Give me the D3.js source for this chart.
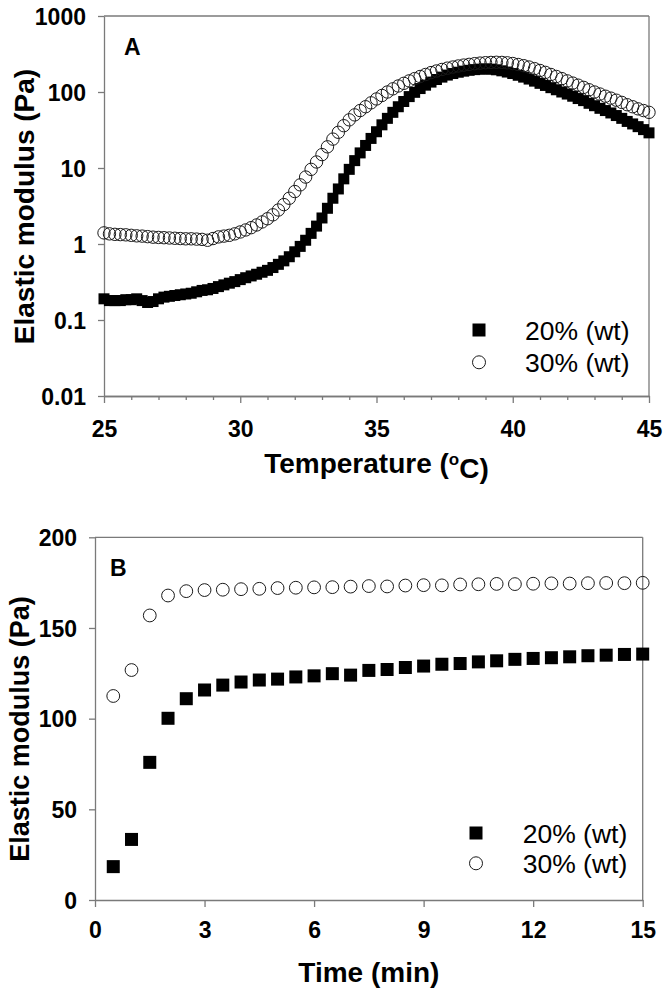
<!DOCTYPE html>
<html>
<head>
<meta charset="utf-8">
<script src="https://cdn.jsdelivr.net/npm/d3@7"></script>
<style>
  html, body { margin: 0; padding: 0; background: #fff; }
  svg { display: block; }
  text { font-family: "Liberation Sans", Arial, Helvetica, sans-serif; fill: #000; }
</style>
</head>
<body>
<svg id="chart" width="669" height="996"></svg>
<script>
// ---------------- Panel A data (temperature sweep) ----------------
const tempA = [
  25.0, 25.2, 25.4, 25.6, 25.8, 26.0, 26.2, 26.4, 26.6, 26.8,
  27.0, 27.2, 27.4, 27.6, 27.8, 28.0, 28.2, 28.4, 28.6, 28.8,
  29.0, 29.2, 29.4, 29.6, 29.8, 30.0, 30.2, 30.4, 30.6, 30.8,
  31.0, 31.2, 31.4, 31.6, 31.8, 32.0, 32.2, 32.4, 32.6, 32.8,
  33.0, 33.2, 33.4, 33.6, 33.8, 34.0, 34.2, 34.4, 34.6, 34.8,
  35.0, 35.2, 35.4, 35.6, 35.8, 36.0, 36.2, 36.4, 36.6, 36.8,
  37.0, 37.2, 37.4, 37.6, 37.8, 38.0, 38.2, 38.4, 38.6, 38.8,
  39.0, 39.2, 39.4, 39.6, 39.8, 40.0, 40.2, 40.4, 40.6, 40.8,
  41.0, 41.2, 41.4, 41.6, 41.8, 42.0, 42.2, 42.4, 42.6, 42.8,
  43.0, 43.2, 43.4, 43.6, 43.8, 44.0, 44.2, 44.4, 44.6, 44.8,
  45.0
];
const g20A = [
  0.19, 0.18, 0.18, 0.18, 0.185, 0.185, 0.19, 0.18, 0.17, 0.175,
  0.19, 0.20, 0.205, 0.21, 0.215, 0.22, 0.225, 0.235, 0.245, 0.25,
  0.26, 0.275, 0.29, 0.305, 0.32, 0.34, 0.36, 0.38, 0.40, 0.425,
  0.45, 0.49, 0.54, 0.60, 0.68, 0.79, 0.93, 1.12, 1.38, 1.72,
  2.2, 2.95, 4.0, 5.3, 7.2, 9.6, 12.5, 15.8, 19.8, 24.5,
  30, 37, 45, 54, 64, 75, 87, 99, 111, 123,
  135, 146, 157, 167, 175, 182, 188, 193, 197, 200,
  201, 200, 196, 190, 183, 175, 166, 157, 148, 139,
  130, 122, 114, 107, 100, 94, 88, 82, 77, 71,
  66, 61, 57, 53, 49, 45, 41, 38, 35, 32,
  29
];
const g30A = [
  1.40, 1.36, 1.34, 1.33, 1.32, 1.30, 1.28, 1.27, 1.25, 1.23,
  1.22, 1.21, 1.20, 1.19, 1.18, 1.17, 1.17, 1.16, 1.15, 1.12,
  1.18, 1.24, 1.27, 1.30, 1.36, 1.44, 1.53, 1.64, 1.78, 1.95,
  2.15, 2.42, 2.8, 3.3, 4.0, 4.9, 6.0, 7.6, 9.6, 12,
  15, 19, 24, 29.5, 36, 43, 50, 57, 64, 72,
  81, 90, 100, 110, 120, 130, 140, 150, 160, 170,
  180, 189, 198, 206, 213, 220, 226, 231, 236, 240,
  243, 245, 246, 245, 242, 237, 230, 222, 213, 203,
  192, 181, 170, 160, 150, 140, 131, 123, 115, 107,
  100, 94, 88, 83, 78, 73, 68, 64, 60, 57,
  54
];
const xTicksA = [25, 30, 35, 40, 45];
const xMinorTicksA = [26, 27, 28, 29, 31, 32, 33, 34, 36, 37, 38, 39, 41, 42, 43, 44];
const yTicksA = [0.01, 0.1, 1, 10, 100, 1000];
const yTickLabelsA = ["0.01", "0.1", "1", "10", "100", "1000"];

// ---------------- Panel B data (time sweep) ----------------
const timeB = [0.5, 1, 1.5, 2, 2.5, 3, 3.5, 4, 4.5, 5, 5.5, 6, 6.5, 7, 7.5,
               8, 8.5, 9, 9.5, 10, 10.5, 11, 11.5, 12, 12.5, 13, 13.5, 14, 14.5, 15];
const g20B = [18.4, 33.4, 75.9, 100.2, 111.0, 115.8, 118.5, 120.2, 121.3, 121.8,
              123.0, 123.6, 124.8, 124.0, 126.6, 127.1, 128.2, 129.0, 130.0, 130.4,
              131.3, 131.9, 132.7, 133.2, 133.6, 134.1, 134.7, 135.0, 135.4, 135.6];
const g30B = [112.5, 126.8, 156.9, 167.9, 170.3, 170.9, 171.1, 171.4, 171.6, 172.0,
              172.2, 172.4, 172.5, 172.8, 173.1, 172.9, 173.4, 173.6, 173.5, 174.0,
              174.1, 174.3, 174.2, 174.4, 174.6, 174.5, 174.7, 174.8, 174.7, 174.9];
const xTicksB = [0, 3, 6, 9, 12, 15];
const yTicksB = [0, 50, 100, 150, 200];

const seriesLabels = ["20% (wt)", "30% (wt)"];

// ---------------- drawing ----------------
const svg = d3.select("#chart");
const axisColor = "#7a7a7a";

function styleAxis(g) {
  g.select(".domain").attr("stroke", axisColor).attr("stroke-width", 1.3);
  g.selectAll(".tick line").attr("stroke", axisColor).attr("stroke-width", 1.3);
  g.selectAll(".tick text")
    .attr("fill", "#000")
    .style("font-size", "23px")
    .style("font-weight", "bold")
    .style("font-family", '"Liberation Sans", Arial, sans-serif');
}

function drawPanel(cfg) {
  const { x, y, xTicks, xMinor, yTicks, yFormat, xTitle, yTitle, yTitleX, yTitleY,
          xTitleY, letter, letterPos, legend, xs, s20, s30, sq, cr } = cfg;
  const [x0, x1] = x.range();
  const [y0, y1] = y.range(); // y0 bottom, y1 top
  const g = svg.append("g");

  // frame (top & right)
  g.append("line").attr("x1", x0).attr("x2", x1).attr("y1", y1).attr("y2", y1)
    .attr("stroke", axisColor).attr("stroke-width", 1.3);
  g.append("line").attr("x1", x1).attr("x2", x1).attr("y1", y1).attr("y2", y0)
    .attr("stroke", axisColor).attr("stroke-width", 1.3);

  // minor x ticks
  if (xMinor) {
    g.append("g").attr("transform", `translate(0,${y0})`)
      .call(d3.axisBottom(x).tickValues(xMinor).tickSizeInner(4).tickSizeOuter(0).tickFormat(""))
      .call(styleAxis);
  }
  // x axis
  const gx = g.append("g").attr("transform", `translate(0,${y0})`)
    .call(d3.axisBottom(x).tickValues(xTicks).tickSizeInner(7).tickSizeOuter(0).tickFormat(d3.format("d")))
    .call(styleAxis);
  gx.selectAll(".tick text").attr("y", cfg.xLabelOffset).attr("dy", null);

  // y axis
  const gy = g.append("g").attr("transform", `translate(${x0},0)`)
    .call(d3.axisLeft(y).tickValues(yTicks).tickSizeInner(6).tickSizeOuter(0).tickPadding(12).tickFormat(yFormat))
    .call(styleAxis);
  gy.selectAll(".tick text").attr("dy", "0.36em");

  // axis titles
  g.append("text")
    .attr("x", (x0 + x1) / 2).attr("y", xTitleY)
    .attr("text-anchor", "middle")
    .style("font-size", "28px").style("font-weight", "bold")
    .call(t => {
      if (cfg.degree) {
        t.append("tspan").text("Temperature (");
        t.append("tspan").text("o").attr("dy", "-0.45em").style("font-size", "17px");
        t.append("tspan").text("C)").attr("dy", "0.45em");
      } else {
        t.text(xTitle);
      }
    });
  g.append("text")
    .attr("transform", `translate(${yTitleX},${yTitleY}) rotate(-90)`)
    .attr("text-anchor", "middle")
    .style("font-size", cfg.yTitleSize + "px").style("font-weight", "bold")
    .text(yTitle);

  // panel letter
  g.append("text").attr("x", letterPos[0]).attr("y", letterPos[1])
    .style("font-size", "23px").style("font-weight", "bold").text(letter);

  // data: squares then circles
  const data20 = xs.map((v, i) => [v, s20[i]]);
  const data30 = xs.map((v, i) => [v, s30[i]]);
  g.append("g").selectAll("rect").data(data20).join("rect")
    .attr("x", d => x(d[0]) - sq / 2).attr("y", d => y(d[1]) - sq / 2)
    .attr("width", sq).attr("height", sq).attr("fill", "#000");
  g.append("g").selectAll("circle").data(data30).join("circle")
    .attr("cx", d => x(d[0])).attr("cy", d => y(d[1])).attr("r", cr)
    .attr("fill", "none").attr("stroke", "#1a1a1a").attr("stroke-width", 1);

  // legend
  const L = legend;
  g.append("rect").attr("x", L.mx - 6.5).attr("y", L.y1 - 6.5).attr("width", 13).attr("height", 13).attr("fill", "#000");
  g.append("circle").attr("cx", L.mx).attr("cy", L.y2).attr("r", 6.5)
    .attr("fill", "#fff").attr("stroke", "#1a1a1a").attr("stroke-width", 1);
  [[L.y1, seriesLabels[0]], [L.y2, seriesLabels[1]]].forEach(([yy, lab]) => {
    g.append("text").attr("x", L.tx).attr("y", yy + 9.5)
      .style("font-size", "26.5px").style("font-weight", "normal").text(lab);
  });
}

// Panel A
drawPanel({
  x: d3.scaleLinear().domain([25, 45]).range([104, 649]),
  y: d3.scaleLog().domain([0.01, 1000]).range([396, 16]),
  xTicks: xTicksA, xMinor: xMinorTicksA, yTicks: yTicksA,
  yFormat: (d, i) => yTickLabelsA[yTicksA.indexOf(d)],
  xLabelOffset: 41,
  degree: true, xTitleY: 473,
  yTitle: "Elastic modulus (Pa)", yTitleX: 33.5, yTitleY: 206.5, yTitleSize: 28,
  letter: "A", letterPos: [124, 55],
  legend: { mx: 479, y1: 330, y2: 362.3, tx: 525 },
  xs: tempA, s20: g20A, s30: g30A, sq: 11, cr: 6.2
});

// Panel B
drawPanel({
  x: d3.scaleLinear().domain([0, 15]).range([95, 642.7]),
  y: d3.scaleLinear().domain([0, 200]).range([900, 537.3]),
  xTicks: xTicksB, xMinor: null, yTicks: yTicksB,
  yFormat: d3.format("d"),
  xLabelOffset: 37.7,
  degree: false, xTitle: "Time (min)", xTitleY: 981.7,
  yTitle: "Elastic modulus (Pa)", yTitleX: 29.3, yTitleY: 729, yTitleSize: 27,
  letter: "B", letterPos: [110, 576],
  legend: { mx: 476, y1: 833, y2: 863.3, tx: 522.7 },
  xs: timeB, s20: g20B, s30: g30B, sq: 13, cr: 6.4
});
</script>
</body>
</html>
